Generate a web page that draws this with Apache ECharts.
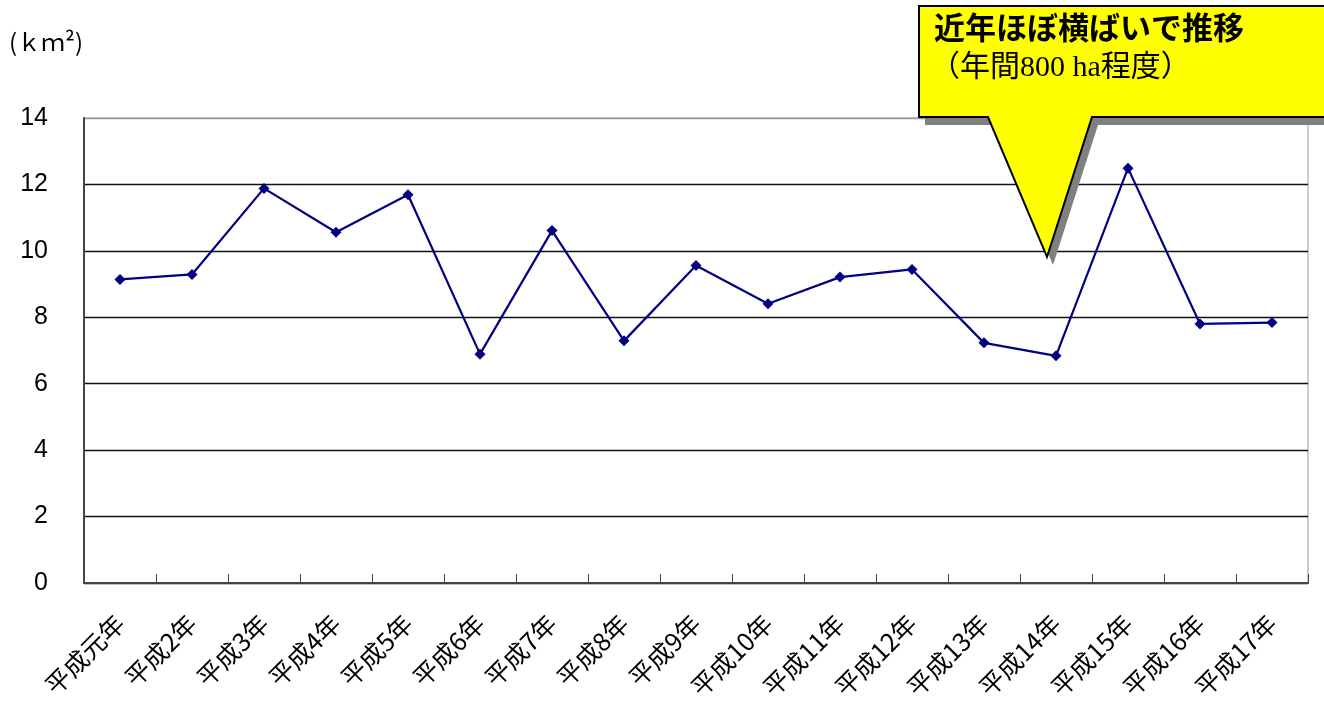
<!DOCTYPE html>
<html><head><meta charset="utf-8">
<script src="https://cdn.jsdelivr.net/npm/echarts@6/dist/echarts.min.js"></script>
<style>html,body{margin:0;padding:0;background:#fff}#c{width:1324px;height:712px}</style>
</head><body><div id="c"></div>
<script>
const categories = ['平成元年','平成2年','平成3年','平成4年','平成5年','平成6年','平成7年','平成8年','平成9年','平成10年','平成11年','平成12年','平成13年','平成14年','平成15年','平成16年','平成17年'];
const areaKm2 = [9.14, 9.29, 11.88, 10.56, 11.69, 6.89, 10.61, 7.29, 9.56, 8.41, 9.21, 9.44, 7.23, 6.84, 12.49, 7.80, 7.84];
const yTicks = [0, 2, 4, 6, 8, 10, 12, 14];
const unitLabel = '(ｋｍ²)';
const calloutTitle = '近年ほぼ横ばいで推移';
const calloutNote = '（年間800 ha程度）';

const chart = echarts.init(document.getElementById('c'), null, {renderer: 'canvas'});
const pts = [[919,6],[1330,6],[1330,117],[1092,117],[1047,257],[988,117],[919,117]];
const shadowPts = pts.map(p => [p[0] + 6, p[1] + 8]);
chart.setOption({
  animation: false,
  backgroundColor: '#fff',
  grid: {left: 84, right: 16, top: 118, bottom: 129, show: true, borderColor: '#999', borderWidth: 1},
  xAxis: {
    type: 'category', data: categories, boundaryGap: true,
    axisLine: {lineStyle: {color: '#444', width: 2}},
    axisTick: {show: true, inside: true, length: 9, lineStyle: {color: '#444', width: 1}},
    axisLabel: {rotate: 45, margin: 36, interval: 0, color: '#000', fontSize: 25, fontFamily: '"Noto Sans CJK JP", sans-serif'},
    splitLine: {show: false}
  },
  yAxis: {
    type: 'value', min: yTicks[0], max: yTicks[yTicks.length - 1], interval: 2,
    axisLine: {show: true, lineStyle: {color: '#444', width: 2}},
    axisTick: {show: false},
    axisLabel: {margin: 36, color: '#000', fontSize: 25, fontFamily: '"Liberation Sans", Arial, sans-serif'},
    splitLine: {show: true, lineStyle: {color: ['#111','#111','#111','#111','#111','#111','#111','#999'], width: 1.3}}
  },
  series: [{
    type: 'line', data: areaKm2,
    symbol: 'diamond', symbolSize: 11,
    lineStyle: {color: '#000080', width: 2.2},
    itemStyle: {color: '#000080'},
    z: 3
  }],
  graphic: [
    {type: 'text', left: 9, top: 30, style: {text: unitLabel, fontSize: 24, fill: '#000', fontFamily: '"Noto Sans CJK JP", sans-serif'}},
    {type: 'polygon', z: 100, shape: {points: shadowPts}, style: {fill: '#808080'}},
    {type: 'polygon', z: 101, shape: {points: pts}, style: {fill: '#ffff00', stroke: '#000', lineWidth: 2}},
    {type: 'text', z: 102, left: 934, top: 12, style: {text: calloutTitle, fontSize: 31, fontWeight: 'bold', fill: '#000', fontFamily: '"Noto Sans CJK JP", sans-serif'}},
    {type: 'text', z: 102, left: 930, top: 53, style: {text: calloutNote, fontSize: 30, fill: '#000', fontFamily: '"Liberation Serif", "Noto Sans CJK JP", serif'}}
  ]
});
</script></body></html>
